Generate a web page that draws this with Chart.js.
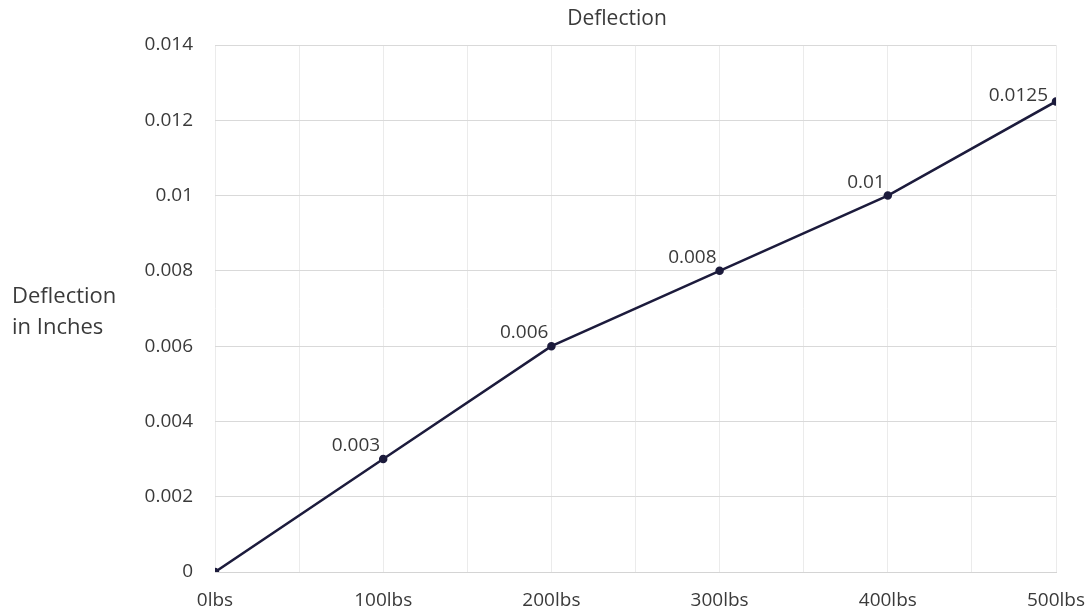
<!DOCTYPE html>
<html>
<head>
<meta charset="utf-8">
<script src="https://cdn.jsdelivr.net/npm/chart.js@4"></script>
<style>
  html, body { margin: 0; padding: 0; background: #fff; }
  #wrap { width: 1088px; height: 612px; }
</style>
</head>
<body>
<div id="wrap"><canvas id="deflChart"></canvas></div>
<script>
// data
const loads = [0, 100, 200, 300, 400, 500];
const loadLabels = ['0lbs', '100lbs', '200lbs', '300lbs', '400lbs', '500lbs'];
const deflection = [0, 0.003, 0.006, 0.008, 0.01, 0.0125];
const pointLabels = ['', '0.003', '0.006', '0.008', '0.01', '0.0125'];

const FONT = '"Open Sans", sans-serif';
const TEXT = '#3a3a3a';
const LINE = '#1c1b3c';

// title, y-axis caption and point labels
const extraText = {
    id: 'extraText',
    afterDatasetsDraw(chart) {
        const ctx = chart.ctx;
        ctx.save();
        ctx.fillStyle = TEXT;
        ctx.font = '21px ' + FONT;
        ctx.textAlign = 'center';
        ctx.textBaseline = 'middle';
        ctx.fillText('Deflection', 617, 19);

        ctx.font = '22px ' + FONT;
        ctx.textAlign = 'left';
        ctx.fillText('Deflection', 12, 297);
        ctx.fillText('in Inches', 12, 328);

        const meta = chart.getDatasetMeta(0);
        const last = meta.data.length - 1;
        ctx.font = '19px ' + FONT;
        ctx.textAlign = 'right';
        meta.data.forEach((pt, i) => {
            if (!pointLabels[i]) return;
            if (i === last) {
                // no room above-right at the edge, so it sits to the left
                ctx.textBaseline = 'middle';
                ctx.fillText(pointLabels[i], pt.x - 8, pt.y - 6);
            } else {
                ctx.textBaseline = 'alphabetic';
                ctx.fillText(pointLabels[i], pt.x - 3, pt.y - 8);
            }
        });
        ctx.restore();
    }
};

new Chart(document.getElementById('deflChart').getContext('2d'), {
    type: 'line',
    data: {
        datasets: [{
            label: 'Deflection',
            data: loads.map((l, i) => ({ x: l, y: deflection[i] })),
            borderColor: LINE,
            backgroundColor: LINE,
            borderWidth: 2.5,
            pointRadius: 3,
            pointHoverRadius: 3,
            tension: 0
        }]
    },
    options: {
        responsive: true,
        maintainAspectRatio: false,
        animation: false,
        layout: { padding: { left: 0, right: 32, top: 45, bottom: 0 } },
        plugins: {
            legend: { display: false },
            tooltip: { enabled: false }
        },
        scales: {
            x: {
                type: 'linear',
                min: 0,
                max: 500,
                ticks: {
                    stepSize: 50,
                    autoSkip: false,
                    maxRotation: 0,
                    padding: 17,
                    color: TEXT,
                    font: { family: FONT, size: 19 },
                    callback: v => {
                        const i = loads.indexOf(v);
                        return i >= 0 ? loadLabels[i] : '';
                    }
                },
                grid: { color: '#ebebeb', drawTicks: false },
                border: { color: '#d4d4d4' },
                afterFit: s => {
                    s.height = 40;
                    s.paddingLeft = 0;
                    s.paddingRight = 0;
                }
            },
            y: {
                min: 0,
                max: 0.014,
                ticks: {
                    stepSize: 0.002,
                    padding: 22,
                    color: TEXT,
                    font: { family: FONT, size: 19 },
                    callback: v => String(parseFloat(v.toFixed(4)))
                },
                grid: { color: '#d9d9d9', drawTicks: false },
                border: { display: false },
                afterFit: s => {
                    s.width = 215;
                    s.paddingTop = 0;
                    s.paddingBottom = 0;
                }
            }
        }
    },
    plugins: [extraText]
});
</script>
</body>
</html>
